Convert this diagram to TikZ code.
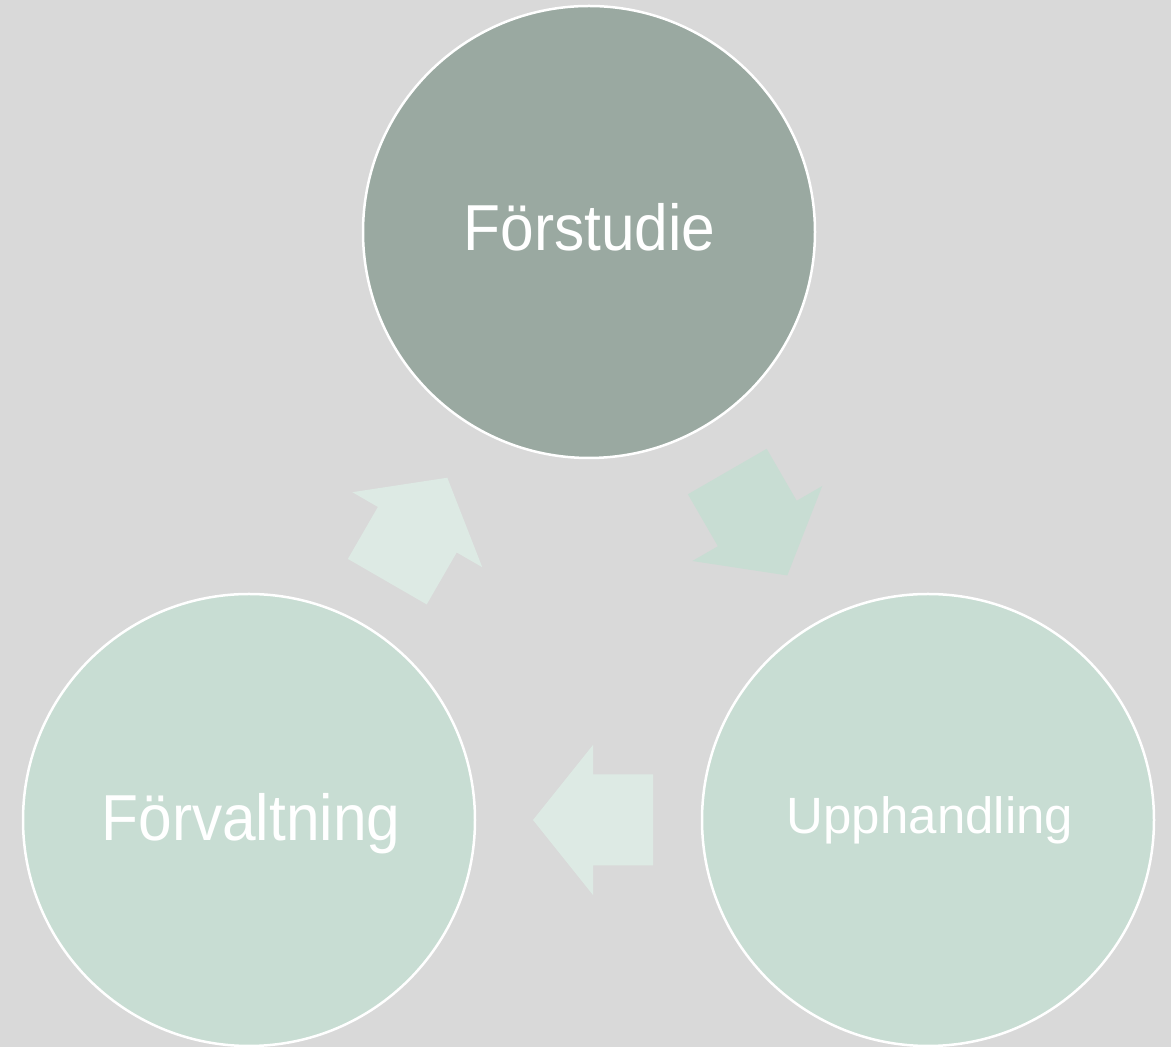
\documentclass[tikz,border=0pt]{standalone}
\usepackage{fontspec}
\newfontfamily\lblfont{Liberation Sans}[FakeStretch=0.93]
\newfontfamily\lblwfont{Liberation Sans}
\definecolor{bgcol}{HTML}{D9D9D9}
\definecolor{topcol}{HTML}{9AA9A1}
\definecolor{lowcol}{HTML}{C8DDD3}
\definecolor{arrowlight}{HTML}{DDEAE4}
\begin{document}
\begin{tikzpicture}[x=1pt,y=1pt,
  phase/.style={circle,draw=white,line width=2.5pt,minimum size=452pt,inner sep=0pt},
  lbl/.style={text=white,anchor=base,inner sep=0pt},
  blockarrow/.pic={\fill[#1] (-60,-45.5) -- (0,-45.5) -- (0,-75) -- (60,0) -- (0,75) -- (0,45.5) -- (-60,45.5) -- cycle;}]
\fill[bgcol] (0,0) rectangle (1171,1047);
\useasboundingbox (0,0) rectangle (1171,1047);
\node[phase,fill=topcol] (fs) at (589,815) {};
\node[phase,fill=lowcol] (fv) at (249,227) {};
\node[phase,fill=lowcol] (up) at (928,227) {};
\node[lbl] (fst) at (589.5,796) {\lblfont\fontsize{65}{78}\selectfont Förstudie};
\node[lbl] (fvt) at (251,206) {\lblfont\fontsize{65}{78}\selectfont Förvaltning};
\node[lbl] (upt) at (930,213) {\lblwfont\fontsize{51}{60}\selectfont Upphandling};
\pic[rotate=-60] (a1) at (757.3,523.5) {blockarrow=lowcol};
\pic[rotate=180] (a2) at (593,227) {blockarrow=arrowlight};
\pic[rotate=60] (a3) at (417.3,517.3) {blockarrow=arrowlight};
\end{tikzpicture}
\end{document}
